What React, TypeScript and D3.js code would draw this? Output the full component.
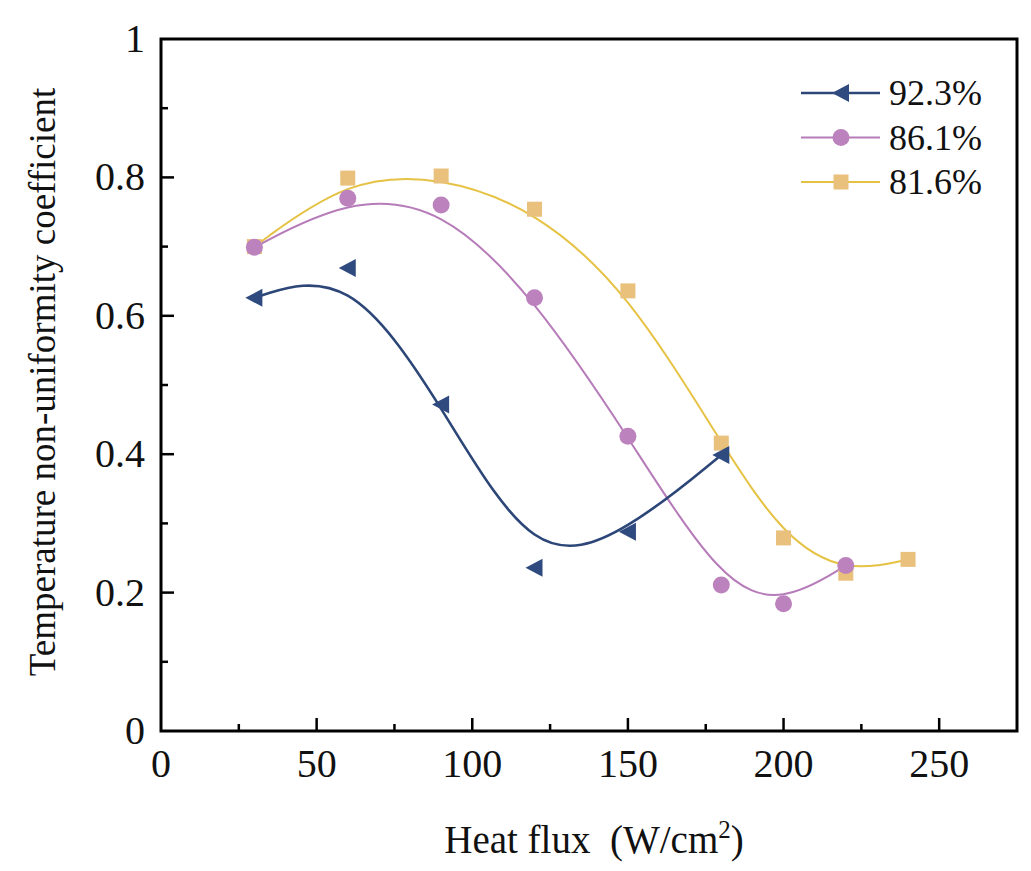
import React from "react";
import * as d3 from "d3";

// heat flux (W/cm2) and temperature non-uniformity coefficient
const flux923 = [30, 60, 90, 120, 150, 180];
const coef923 = [0.626, 0.669, 0.472, 0.236, 0.288, 0.399];
const flux861 = [30, 60, 90, 120, 150, 180, 200, 220];
const coef861 = [0.699, 0.77, 0.76, 0.626, 0.426, 0.211, 0.184, 0.239];
const flux816 = [30, 60, 90, 120, 150, 180, 200, 220, 240];
const coef816 = [0.7, 0.799, 0.802, 0.754, 0.636, 0.416, 0.279, 0.228, 0.248];

const seriesNames = ["92.3%", "86.1%", "81.6%"];
const xTicks = [0, 50, 100, 150, 200, 250];
const yTicks = [0, 0.2, 0.4, 0.6, 0.8, 1];

const W = 1031;
const H = 871;
const margin = { left: 161, right: 14, top: 39, bottom: 140 };
const font = "Liberation Serif, Times New Roman, DejaVu Serif, serif";

const series = [
  { name: seriesNames[2], x: flux816, y: coef816, line: "#e6c244", fill: "#e9c07c", width: 2, marker: "square" },
  { name: seriesNames[1], x: flux861, y: coef861, line: "#b67bb9", fill: "#bc82bd", width: 2, marker: "circle" },
  { name: seriesNames[0], x: flux923, y: coef923, line: "#2d4678", fill: "#2f4a7e", width: 2.6, marker: "triangle" },
];

function Marker({ type, cx, cy, color }) {
  if (type === "circle") return <circle cx={cx} cy={cy} r={8.5} fill={color} />;
  if (type === "square") return <rect x={cx - 7.5} y={cy - 7.5} width={15} height={15} fill={color} />;
  return <path d={`M${cx - 9},${cy} L${cx + 8},${cy - 9} L${cx + 8},${cy + 9} Z`} fill={color} />;
}

export default function App() {
  const x = d3.scaleLinear().domain([0, 275]).range([margin.left, W - margin.right]);
  const y = d3.scaleLinear().domain([0, 1]).range([H - margin.bottom, margin.top]);
  const line = d3.line().curve(d3.curveBasis);
  const x0 = x(0), x1 = x(275), y0 = y(0), y1 = y(1);
  const minorX = d3.range(25, 275, 50);
  const minorY = d3.range(0.1, 1, 0.2);
  const txt = { fontFamily: font, fill: "#111" };

  // legend rows, top to bottom: 92.3, 86.1, 81.6
  const legendOrder = [series[2], series[1], series[0]];

  return (
    <svg width={W} height={H} style={{ position: "absolute", left: 0, top: 0, background: "#fff" }}>
      <rect width={W} height={H} fill="#fff" />
      {series.map((s) => (
        <path
          key={s.name + "l"}
          d={line(s.x.map((v, i) => [x(v), y(s.y[i])]))}
          fill="none"
          stroke={s.line}
          strokeWidth={s.width}
        />
      ))}
      {series.map((s) => (
        <g key={s.name + "m"}>
          {s.x.map((v, i) => (
            <Marker key={i} type={s.marker} cx={x(v)} cy={y(s.y[i])} color={s.fill} />
          ))}
        </g>
      ))}

      {/* frame */}
      <rect x={x0} y={y1} width={x1 - x0} height={y0 - y1} fill="none" stroke="#000" strokeWidth={3} />

      {/* x ticks */}
      {xTicks.map((t) => (
        <g key={"xt" + t}>
          {t > 0 && <line x1={x(t)} x2={x(t)} y1={y0} y2={y0 - 13} stroke="#000" strokeWidth={2.5} />}
          <text x={x(t)} y={y0 + 46} textAnchor="middle" fontSize={40} style={txt}>
            {t}
          </text>
        </g>
      ))}
      {minorX.map((t) => (
        <line key={"xm" + t} x1={x(t)} x2={x(t)} y1={y0} y2={y0 - 7} stroke="#000" strokeWidth={2.5} />
      ))}

      {/* y ticks */}
      {yTicks.map((t) => (
        <g key={"yt" + t}>
          {t > 0 && t < 1 && <line x1={x0} x2={x0 + 13} y1={y(t)} y2={y(t)} stroke="#000" strokeWidth={2.5} />}
          <text x={145} y={y(t) + 13} textAnchor="end" fontSize={40} style={txt}>
            {d3.format("~g")(t)}
          </text>
        </g>
      ))}
      {minorY.map((t) => (
        <line key={"ym" + t} x1={x0} x2={x0 + 7} y1={y(t)} y2={y(t)} stroke="#000" strokeWidth={2.5} />
      ))}

      {/* axis titles */}
      <text x={594} y={853} textAnchor="middle" fontSize={39} style={{ ...txt, whiteSpace: "pre" }}>
        Heat flux  (W/cm<tspan fontSize={25} dy={-15}>2</tspan><tspan dy={15}>)</tspan>
      </text>
      <text transform={`translate(55,382) rotate(-90)`} textAnchor="middle" fontSize={37} style={txt}>
        Temperature non-uniformity coefficient
      </text>

      {/* legend */}
      {legendOrder.map((s, i) => {
        const ly = 93 + i * 44.5;
        return (
          <g key={"lg" + s.name}>
            <line x1={801} x2={880} y1={ly} y2={ly} stroke={s.line} strokeWidth={s.width} />
            <Marker type={s.marker} cx={841} cy={ly} color={s.fill} />
            <text x={889} y={ly + 12} fontSize={36} style={txt}>
              {s.name}
            </text>
          </g>
        );
      })}
    </svg>
  );
}
